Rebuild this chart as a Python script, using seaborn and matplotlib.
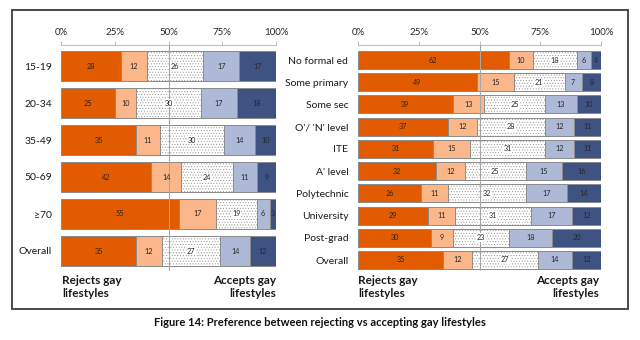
import numpy as np
import pandas as pd
import matplotlib
matplotlib.use("Agg")
import matplotlib.pyplot as plt
import seaborn as sns
from matplotlib.patches import Rectangle

sns.set_style("white")
plt.rcParams['font.family'] = ['Lato', 'DejaVu Sans']
plt.rcParams['hatch.linewidth'] = 0.35

# ---------------- data ----------------
age_groups = ["15-19", "20-34", "35-49", "50-69", "\u226570", "Overall"]
age_s1 = [28, 25, 35, 42, 55, 35]
age_s2 = [12, 10, 11, 14, 17, 12]
age_s3 = [26, 30, 30, 24, 19, 27]
age_s4 = [17, 17, 14, 11, 6, 14]
age_s5 = [17, 18, 10, 9, 3, 12]

edu_groups = ["No formal ed", "Some primary", "Some sec", "O'/ 'N' level", "ITE",
              "A' level", "Polytechnic", "University", "Post-grad", "Overall"]
edu_s1 = [62, 49, 39, 37, 31, 32, 26, 29, 30, 35]
edu_s2 = [10, 15, 13, 12, 15, 12, 11, 11, 9, 12]
edu_s3 = [18, 21, 25, 28, 31, 25, 32, 31, 23, 27]
edu_s4 = [6, 7, 13, 12, 12, 15, 17, 17, 18, 14]
edu_s5 = [4, 8, 10, 11, 11, 16, 14, 12, 20, 12]

x_ticks = [0, 25, 50, 75, 100]
x_tick_labels = ["0%", "25%", "50%", "75%", "100%"]

seg_colors = ["#E35B00", "#FBB68A", "#FFFFFF", "#AEB9D8", "#3F5382"]
seg_hatch = [None, None, "......", None, None]
edge_col = "#8C8C8C"

fig = plt.figure(figsize=(6.4, 3.4), dpi=100)
W, H = 640.0, 340.0


def add_axes_px(x0, x1, y_top, y_bot):
    return fig.add_axes([x0 / W, 1 - y_bot / H, (x1 - x0) / W, (y_bot - y_top) / H])


def draw_panel(ax, cats, series, first_c, spacing, label_pad):
    df = pd.DataFrame({"cat": cats})
    cum = np.cumsum(np.array(series), axis=0)
    # draw from longest cumulative to shortest so each layer covers the left part
    for k in range(len(series) - 1, -1, -1):
        df["v"] = cum[k]
        kw = {}
        if seg_hatch[k]:
            kw["hatch"] = seg_hatch[k]
        sns.barplot(data=df, x="v", y="cat", order=cats, orient="h", ax=ax,
                    color=seg_colors[k], saturation=1, width=0.81,
                    edgecolor=edge_col, linewidth=0.7, errorbar=None, **kw)
    n = len(cats)
    top_off = (first_c - 45) / spacing
    bot_off = (272 - (first_c + (n - 1) * spacing)) / spacing
    ax.set_ylim(n - 1 + bot_off, -top_off)
    ax.set_xlim(0, 100)
    # segment labels
    starts = cum - np.array(series)
    for k in range(len(series)):
        for i in range(n):
            v = series[k][i]
            xm = starts[k][i] + v / 2
            kw = {}
            if k == 2:
                kw["bbox"] = dict(facecolor="white", edgecolor="none", pad=0.6)
            ax.text(xm, i, str(v), ha="center", va="center", fontsize=5.2,
                    color="#262626", zorder=5, **kw)
    ax.axvline(50, ymin=0.01, ymax=1, color="#A6A6A6", lw=0.8, zorder=4)
    ax.set_xlabel("")
    ax.set_ylabel("")
    ax.xaxis.tick_top()
    ax.set_xticks(x_ticks)
    ax.set_xticklabels(x_tick_labels, fontsize=7, color="#262626")
    ax.tick_params(axis="x", direction="out", length=3, width=0.7,
                   color="#BFBFBF", pad=3, top=True, bottom=False)
    ax.tick_params(axis="y", length=0, pad=label_pad, labelsize=7.5,
                   labelcolor="#1a1a1a")
    for s in ["left", "right", "bottom"]:
        ax.spines[s].set_visible(False)
    ax.spines["top"].set_color("#BFBFBF")
    ax.spines["top"].set_linewidth(0.8)


axL = add_axes_px(61, 276, 45, 272)
draw_panel(axL, age_groups, [age_s1, age_s2, age_s3, age_s4, age_s5], 66, 37, 6.5)

axR = add_axes_px(358, 601, 45, 272)
draw_panel(axR, edu_groups, [edu_s1, edu_s2, edu_s3, edu_s4, edu_s5], 60, 200 / 9, 7)

# end labels
for x0, x1 in [(62, 276), (358, 599)]:
    fig.text(x0 / W, 1 - 287 / H, "Rejects gay\nlifestyles", ha="left", va="center",
             fontsize=8.5, fontweight="bold", color="#1a1a1a", linespacing=1.15)
    fig.text(x1 / W, 1 - 287 / H, "Accepts gay\nlifestyles", ha="right", va="center",
             fontsize=8.5, fontweight="bold", color="#1a1a1a", linespacing=1.15,
             multialignment="right")

# outer frame
fig.patches.append(Rectangle((12 / W, 1 - 309 / H), 616 / W, 299 / H,
                             transform=fig.transFigure, fill=False,
                             edgecolor="#3a3a3a", lw=1.3))

fig.text(320 / W, 1 - 322 / H,
         "Figure 14: Preference between rejecting vs accepting gay lifestyles",
         ha="center", va="center", fontsize=8, fontweight="bold", color="#111111")

fig.savefig("out.png", dpi=100)
